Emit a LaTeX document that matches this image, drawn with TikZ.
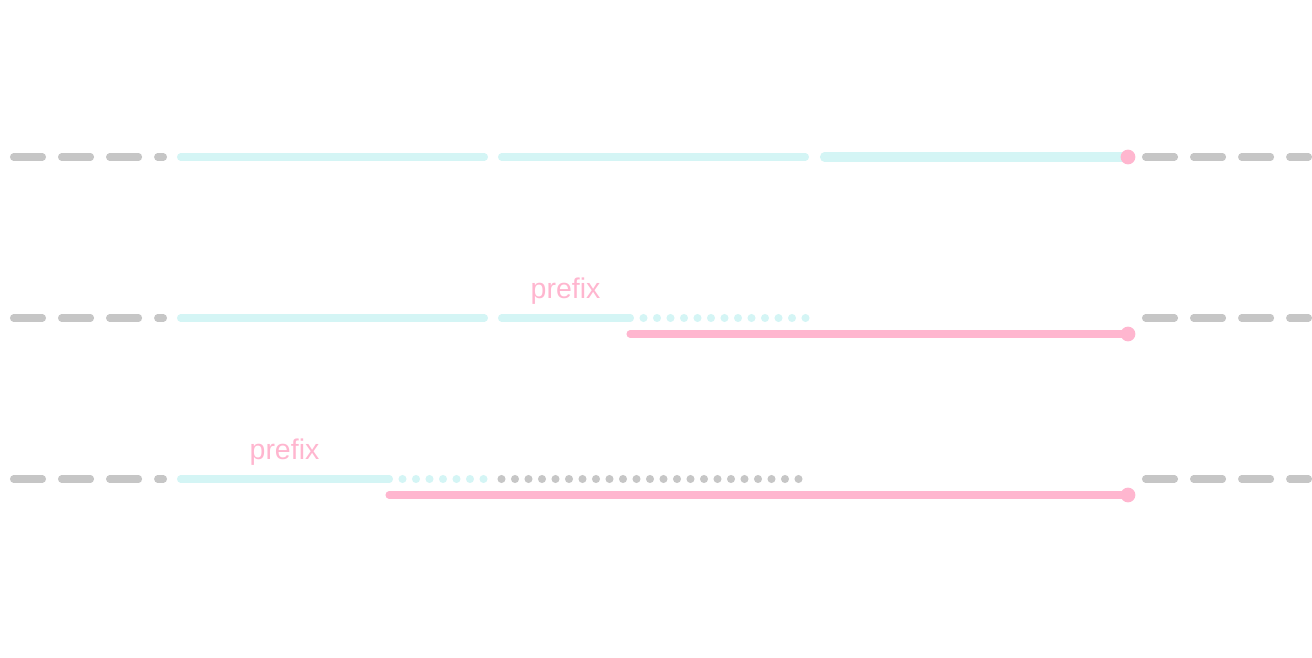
\documentclass[tikz,border=0pt]{standalone}
\usepackage{fontspec}
\setmainfont{Liberation Sans}
\definecolor{segcyan}{RGB}{212,245,245}
\definecolor{axisgray}{RGB}{198,198,198}
\definecolor{prefpink}{RGB}{255,182,207}
\tikzset{
  axisline/.style={color=axisgray, line width=2pt, line cap=round, dash pattern=on 8.25pt off 5.41pt},
  segline/.style={color=segcyan, line width=2pt, line cap=round},
  prefline/.style={color=prefpink, line width=2pt, line cap=round},
  enddot/.style={circle, fill=prefpink, inner sep=0pt, minimum size=4.2pt},
  prefixlabel/.style={text=prefpink, font=\fontsize{8.1}{10}\selectfont, anchor=base},
}
\begin{document}
\begin{tikzpicture}[x=0.01cm, y=-0.01cm]
    \useasboundingbox (0,0) rectangle (1312,658);

    % gray axis on both sides of every row
    \foreach \y in {157,318,479} {
        \draw[axisline] (13.5,\y) -- (163.5,\y);
        \draw[axisline] (1145.5,\y) -- (1308.5,\y);
    }

    % row 1
    \draw[segline] (180.5,157) -- (484.5,157);
    \draw[segline] (501.5,157) -- (805.5,157);
    \coordinate (end1) at (1128,157);
    \draw[segline, line width=2.6pt] (824.5,157) -- (end1);
    \node[enddot] (dot1) at (end1) {};

    % row 2
    \draw[segline] (180.5,318) -- (484.5,318);
    \draw[segline] (501.5,318) -- (630,318);
    \foreach \i in {0,...,13}
        \fill[segcyan] (630+13.5*\i,318) circle (1.15pt);
    \coordinate (start2) at (630,334);
    \coordinate (end2) at (1128,334);
    \draw[prefline] (start2) -- (end2);
    \node[enddot] (dot2) at (end2) {};
    \node[prefixlabel] (prefix2) at (565.5,299) {prefix};

    % row 3
    \draw[segline] (180.5,479) -- (389,479);
    \foreach \i in {0,...,7}
        \fill[segcyan] (389+13.5*\i,479) circle (1.15pt);
    \foreach \i in {0,...,22}
        \fill[axisgray] (501.5+13.5*\i,479) circle (1.15pt);
    \coordinate (start3) at (389,495);
    \coordinate (end3) at (1128,495);
    \draw[prefline] (start3) -- (end3);
    \node[enddot] (dot3) at (end3) {};
    \node[prefixlabel] (prefix3) at (284.5,460) {prefix};
\end{tikzpicture}
\end{document}
